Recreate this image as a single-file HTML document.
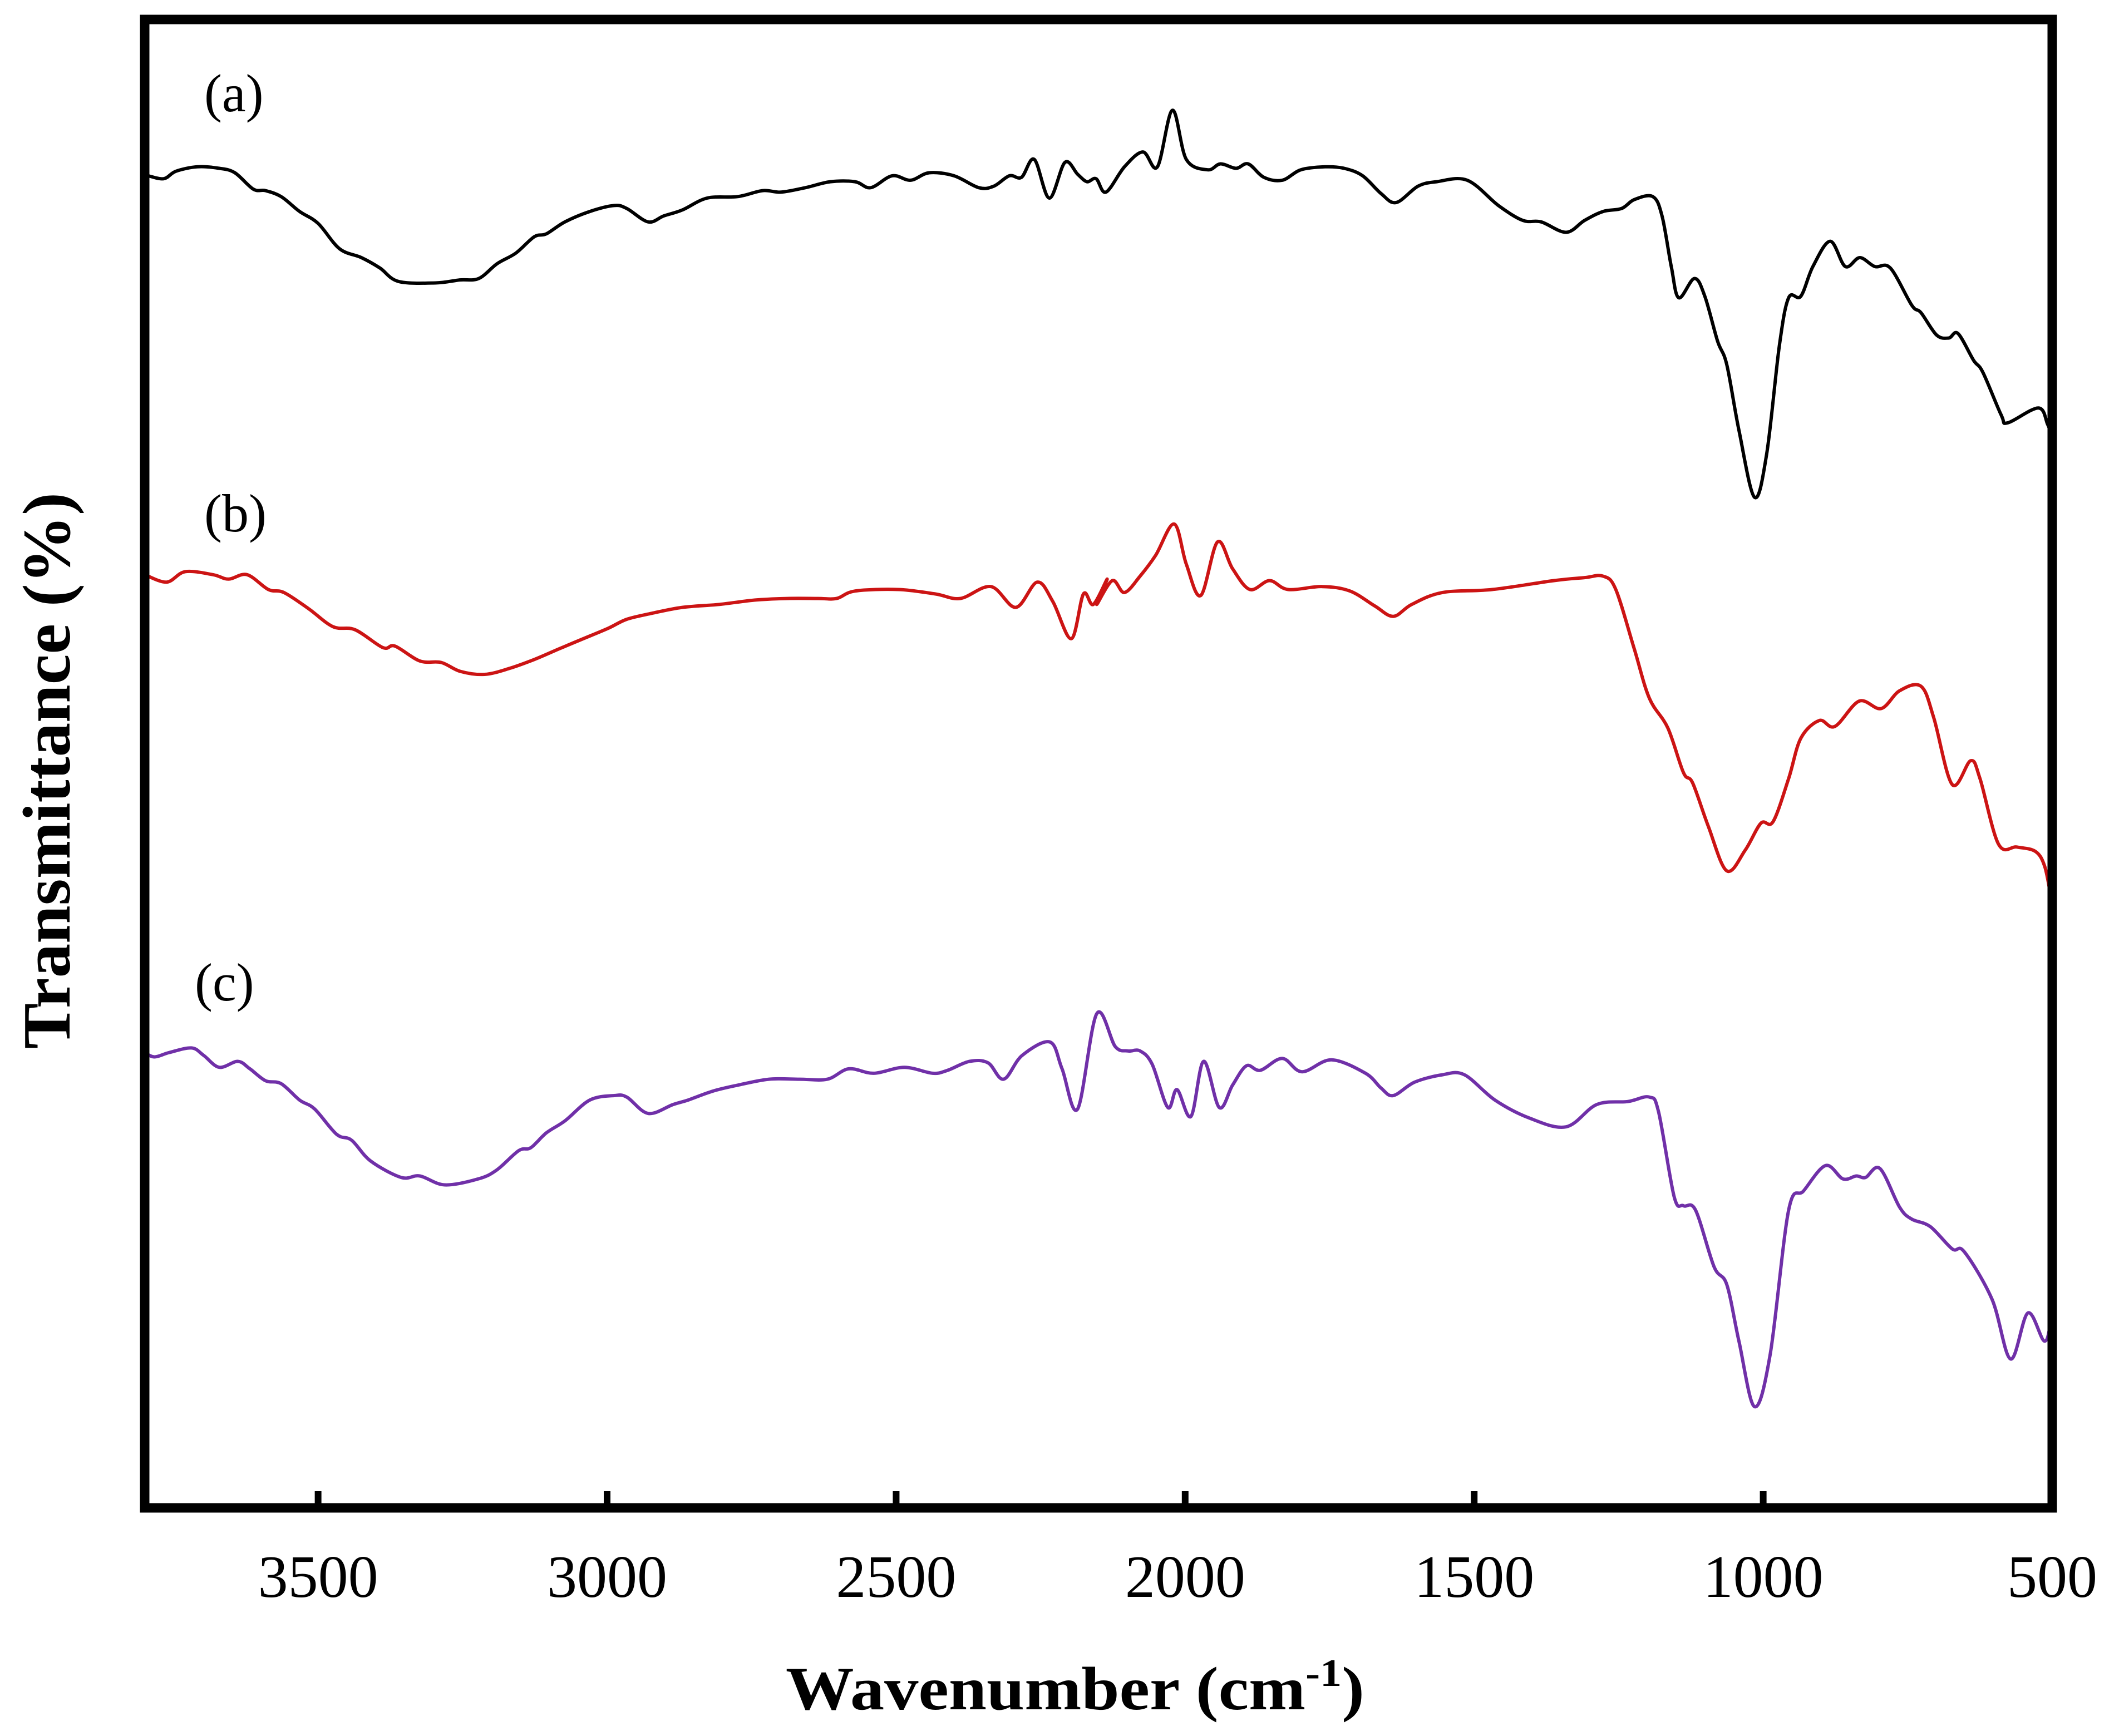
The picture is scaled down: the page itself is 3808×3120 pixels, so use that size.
<!DOCTYPE html>
<html><head><meta charset="utf-8"><style>
html,body{margin:0;padding:0;background:#fff;}
svg{display:block;}
text{font-family:"Liberation Serif",serif;}
</style></head><body>
<svg id="chart" width="3808" height="3120" viewBox="0 0 3808 3120" xmlns="http://www.w3.org/2000/svg">
<rect x="0" y="0" width="3808" height="3120" fill="#fff"/>
<g id="series"></g>
<g id="axes"></g>
</svg>
<script>
const xTicks = [3500, 3000, 2500, 2000, 1500, 1000, 500];
const seriesLabels = ["(a)", "(b)", "(c)"];
const aWn = [3794,3767,3746,3709,3671,3644,3612,3591,3564,3532,3500,3463,3425,3393,3361,3297,3255,3222,3190,3158,3126,3105,3073,3030,2988,2966,2929,2902,2870,2827,2774,2731,2699,2657,2614,2571,2544,2507,2475,2443,2400,2357,2331,2304,2283,2261,2235,2208,2186,2170,2154,2137,2105,2073,2048,2022,1998,1961,1939,1912,1891,1864,1832,1800,1758,1725,1693,1661,1635,1597,1565,1512,1458,1416,1384,1341,1309,1277,1245,1223,1191,1175,1159,1146,1119,1101,1079,1063,1042,1015,994,972,956,935,914,884,858,833,807,780,743,727,700,679,663,636,620,588,577,524,508,500];
const aT = [89.5,89.3,89.8,90.1,90.0,89.7,88.6,88.5,88.1,87.1,86.3,84.6,84.0,83.3,82.4,82.3,82.5,82.6,83.6,84.3,85.4,85.6,86.4,87.1,87.5,87.3,86.4,86.8,87.2,88.0,88.1,88.5,88.4,88.7,89.1,89.1,88.7,89.5,89.2,89.7,89.5,88.7,88.8,89.5,89.4,90.6,88.0,90.4,89.6,89.1,89.3,88.4,90.1,91.1,90.1,93.9,90.6,89.9,90.3,90.0,90.3,89.4,89.2,89.9,90.1,90.0,89.5,88.3,87.7,88.8,89.1,89.2,87.5,86.5,86.4,85.7,86.5,87.1,87.3,87.9,88.1,86.8,83.4,81.3,82.6,81.4,78.4,76.8,72.4,67.9,70.8,78.1,81.3,81.4,83.4,85.1,83.4,84.0,83.4,83.3,80.8,80.3,78.8,78.6,78.9,77.1,76.3,73.4,72.9,73.9,72.8,72.0];
const bWn = [3800,3762,3730,3682,3655,3623,3586,3559,3516,3474,3436,3388,3367,3324,3287,3254,3212,3169,3126,3084,3041,2998,2966,2923,2870,2806,2742,2688,2635,2603,2571,2496,2432,2389,2336,2293,2256,2229,2197,2176,2159,2135,2153,2126,2105,2078,2051,2019,1998,1973,1944,1918,1888,1854,1822,1763,1715,1672,1640,1608,1555,1469,1362,1309,1277,1255,1223,1197,1165,1138,1122,1095,1063,1031,1004,983,956,935,903,876,834,796,764,727,705,673,641,625,593,561,529,513,502];
const bT = [62.7,62.2,62.9,62.7,62.4,62.7,61.7,61.5,60.4,59.2,59.0,57.8,57.9,56.9,56.8,56.2,56.0,56.4,57.0,57.7,58.4,59.1,59.7,60.1,60.5,60.7,61.0,61.1,61.1,61.1,61.6,61.7,61.4,61.1,61.9,60.5,62.2,60.9,58.4,61.4,60.7,62.4,60.7,62.3,61.5,62.6,64.0,66.1,63.4,61.3,64.9,63.1,61.7,62.3,61.7,61.9,61.6,60.6,59.9,60.7,61.5,61.7,62.3,62.5,62.6,61.7,57.7,54.4,52.4,49.4,48.7,45.8,42.8,44.2,46.0,46.1,49.0,51.7,52.9,52.5,54.2,53.7,54.9,55.2,53.1,48.6,50.2,49.0,44.6,44.4,44.1,43.1,41.0];
const cWn = [3805,3783,3757,3719,3698,3671,3639,3618,3591,3564,3532,3506,3468,3442,3409,3356,3324,3281,3223,3191,3153,3132,3105,3073,3030,2988,2966,2929,2886,2860,2817,2774,2720,2667,2619,2582,2539,2486,2437,2411,2373,2341,2314,2282,2234,2213,2186,2153,2121,2099,2078,2057,2030,2014,1990,1968,1941,1918,1894,1870,1832,1798,1747,1688,1661,1640,1603,1555,1517,1464,1405,1341,1288,1234,1197,1181,1154,1138,1117,1085,1063,1042,1015,988,956,930,892,862,839,823,798,764,743,711,673,652,604,572,542,513,500];
const cT = [30.6,30.3,30.6,30.9,30.4,29.6,30.0,29.5,28.7,28.5,27.4,26.8,25.1,24.7,23.3,22.2,22.3,21.7,22.1,22.7,24.0,24.2,25.2,26.0,27.4,27.7,27.6,26.5,27.1,27.4,28.0,28.4,28.8,28.8,28.8,29.5,29.2,29.6,29.2,29.4,30.0,29.9,28.8,30.4,31.3,29.5,26.8,33.2,31.0,30.7,30.7,29.8,26.9,28.1,26.3,30.0,26.9,28.4,29.7,29.4,30.2,29.3,30.1,29.2,28.2,27.7,28.6,29.1,29.1,27.4,26.2,25.6,27.1,27.3,27.6,26.6,20.9,20.3,20.0,16.2,15.0,11.2,6.8,10.3,20.0,21.3,23.0,22.1,22.3,22.2,22.8,20.2,19.4,18.9,17.4,17.2,14.0,10.0,13.1,11.2,13.1];

const L = 260, R = 3688, T = 35, B = 2710;
const X_MAX = 3800, X_MIN = 500;
function xScale(w){ return L + (X_MAX - w) / (X_MAX - X_MIN) * (R - L); }
function yScale(v){ return B - v / 100 * (B - T); }
const NS = "http://www.w3.org/2000/svg";
function mk(tag, attrs, parent){
  const el = document.createElementNS(NS, tag);
  for (const k in attrs) el.setAttribute(k, attrs[k]);
  parent.appendChild(el);
  return el;
}
function pathFor(wn, vals){
  const p = wn.map((w,i)=>[Math.min(R, Math.max(L, xScale(w))), yScale(vals[i])]);
  let d = "M" + p[0][0].toFixed(1) + "," + p[0][1].toFixed(1);
  for (let i = 0; i < p.length - 1; i++){
    const p0 = p[Math.max(0,i-1)], p1 = p[i], p2 = p[i+1], p3 = p[Math.min(p.length-1,i+2)];
    const c1 = [p1[0] + (p2[0]-p0[0])/6, p1[1] + (p2[1]-p0[1])/6];
    const c2 = [p2[0] - (p3[0]-p1[0])/6, p2[1] - (p3[1]-p1[1])/6];
    d += " C" + c1[0].toFixed(1)+","+c1[1].toFixed(1)+" "+c2[0].toFixed(1)+","+c2[1].toFixed(1)+" "+p2[0].toFixed(1)+","+p2[1].toFixed(1);
  }
  return d;
}
const sg = document.getElementById("series");
const ag = document.getElementById("axes");

const la = mk("path", {d: pathFor(aWn, aT), fill:"none", stroke:"#000", "stroke-width":6, "stroke-linejoin":"round"}, sg);


const lb = mk("path", {d: pathFor(bWn, bT), fill:"none", stroke:"#cc1414", "stroke-width":6, "stroke-linejoin":"round"}, sg);


const lc = mk("path", {d: pathFor(cWn, cT), fill:"none", stroke:"#7030a8", "stroke-width":6, "stroke-linejoin":"round"}, sg);



const labPos = [[367,200],[367,955],[350,1798]];
seriesLabels.forEach((s,i)=>{
  const t = mk("text", {x: labPos[i][0], y: labPos[i][1], "font-size": 96, fill:"#000"}, ag);
  t.textContent = s;
  
  
});

const frame = mk("rect", {x:L, y:T, width:R-L, height:B-T, fill:"none", stroke:"#000", "stroke-width":17}, ag);



xTicks.forEach(v=>{
  const x = xScale(v);
  const tk = mk("line", {x1:x, x2:x, y1:B, y2:B-30, stroke:"#000", "stroke-width":12}, ag);
  
  
  const tl = mk("text", {x:x, y:2870, "font-size":108, "text-anchor":"middle", fill:"#000"}, ag);
  tl.textContent = String(v);
  
  
});
</script>
<svg style="position:absolute;left:0;top:0" width="3808" height="3120" viewBox="0 0 3808 3120" xmlns="http://www.w3.org/2000/svg">
<text x="1932" y="3072" font-size="110" font-weight="bold" text-anchor="middle" textLength="1040" lengthAdjust="spacingAndGlyphs" font-family="Liberation Serif, serif">Wavenumber (cm<tspan font-size="70" dy="-42">-1</tspan><tspan dy="42">)</tspan></text>
<text transform="translate(125,1385) rotate(-90)" x="0" y="0" font-size="122" font-weight="bold" text-anchor="middle" textLength="1000" lengthAdjust="spacingAndGlyphs" font-family="Liberation Serif, serif">Transmittance (%)</text>
</svg>
</body></html>
